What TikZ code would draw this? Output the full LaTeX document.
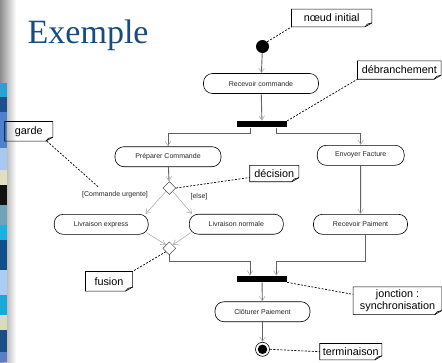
\documentclass[tikz,border=0pt]{standalone}
\usepackage{fontspec}
\setmainfont{Liberation Sans}
\newfontfamily\titlefont{Liberation Serif}
\usetikzlibrary{arrows.meta,shapes.geometric,calc}
\definecolor{titleblue}{RGB}{22,76,126}
\definecolor{bA}{HTML}{22A5D5}
\definecolor{bB}{HTML}{1F4E8C}
\definecolor{bC}{HTML}{4F7FCF}
\definecolor{bD}{HTML}{A8C8F0}
\definecolor{bE}{HTML}{E0E0C0}
\definecolor{bF}{HTML}{111111}
\definecolor{bG}{HTML}{6FA3B8}
\definecolor{bH}{HTML}{1CB0E0}
\definecolor{bI}{HTML}{0E4F8C}
\definecolor{bJ}{HTML}{A9CDF3}
\definecolor{bK}{HTML}{1AA8D8}
\definecolor{bL}{HTML}{DADBBB}
\definecolor{bM}{HTML}{1B4E86}
\definecolor{bN}{HTML}{5A7FC6}
\begin{document}
\begin{tikzpicture}[x=1pt,y=-1pt,
  act/.style={draw=black, line width=0.6pt, rounded corners=9pt, minimum height=20pt,
    inner sep=0pt, font=\fontsize{7}{8}\selectfont, text=black!85},
  syncbar/.style={fill=black, draw=none, minimum width=50pt, minimum height=6.3pt, inner sep=0pt},
  choice/.style={diamond, aspect=1, draw=black!70, line width=0.5pt, minimum width=13pt,
    minimum height=13pt, inner sep=0pt},
  notetxt/.style={inner sep=0pt, font=\fontsize{10.8}{12.5}\selectfont, align=center},
  notebox/.style={draw=black, line width=0.6pt},
  guard/.style={inner sep=0pt, font=\fontsize{7}{8}\selectfont, text=black!85},
  flow/.style={draw=black!62, line width=0.9pt,
    -{Straight Barb[length=4.5pt,width=5.5pt,color=black!30,line width=0.6pt]}},
  branch/.style={draw=black!35, line width=0.5pt,
    -{Straight Barb[length=4.5pt,width=5.5pt,color=black!30,line width=0.6pt]}},
  link/.style={draw=black, dash pattern=on 2pt off 1.5pt, line width=0.7pt}]
\useasboundingbox (0,0) rectangle (442,362);
\fill[white] (0,0) rectangle (442,362);
% left decorative strip
\shade[left color=black!45, right color=white] (0,0) rectangle (16,362);
\foreach \ya/\yb/\c in {83/97/bA, 97/112/bB, 112/148/bC, 148/170/bD, 170/185/bE,
  185/205/bF, 205/225/bG, 225/240/bH, 240/270/bI, 270/295/bJ, 295/315/bK,
  315/330/bL, 330/352/bM, 352/362/bN}
  \fill[\c] (0,\ya) rectangle (6.5,\yb);
% title
\node[anchor=base west, inner sep=0pt, text=titleblue,
  font=\titlefont\fontsize{34}{34}\selectfont] (title) at (27.5,43) {Exemple};
% activity nodes
\node[circle, fill=black, minimum size=13pt, inner sep=0pt] (init) at (262.5,46.5) {};
\node[act, minimum width=115pt] (rc) at (261,83.5) {Recevoir commande};
\node[syncbar] (bar1) at (262,124.2) {};
\node[act, minimum width=106pt] (prep) at (168,156.7) {Préparer Commande};
\node[act, minimum width=87pt] (env) at (360.7,155.3) {Envoyer Facture};
\node[choice] (dec) at (169.3,188) {};
\node[act, minimum width=94pt] (expr) at (101.2,224.3) {Livraison express};
\node[act, minimum width=94pt] (norm) at (236.3,224.2) {Livraison normale};
\node[act, minimum width=94pt] (recp) at (360.5,224.3) {Recevoir Paiment};
\node[choice] (merge) at (169.3,248.3) {};
\node[syncbar] (bar2) at (262,279) {};
\node[act, minimum width=95pt] (clot) at (262.5,311.7) {Clôturer Paiement};
\node[circle, draw=black, line width=0.6pt, minimum size=14pt, inner sep=0pt] (final) at (262.5,349.3) {};
\node[circle, fill=black, minimum size=9.5pt, inner sep=0pt] (finalin) at (final.center) {};
% guard labels
\node[guard] (lab1) at (115,195) {[Commande urgente]};
\node[guard] (lab2) at (199,196.5) {[else]};
% notes
\node[notetxt, minimum width=80pt, minimum height=17.4pt] (n1) at (331.7,18) {nœud initial};
\node[notetxt, minimum width=83.3pt, minimum height=18pt] (n2) at (399.3,70) {débranchement};
\node[notetxt, minimum width=47.7pt, minimum height=19.3pt] (n3) at (28.8,131.3) {garde};
\node[notetxt, minimum width=48.7pt, minimum height=16pt] (n4) at (274.3,173.5) {décision};
\node[notetxt, minimum width=46.7pt, minimum height=19.3pt] (n5) at (109,281.3) {fusion};
\node[notetxt, minimum width=88.3pt, minimum height=27.3pt] (n6) at (397.5,300.7) {jonction :\\synchronisation};
\node[notetxt, minimum width=61.7pt, minimum height=16pt] (n7) at (350.8,351.7) {terminaison};
\foreach \n in {n1,n2,n3,n4,n5,n6,n7}{
  \draw[notebox] (\n.north west) -- (\n.north east) -- ([yshift=4pt]\n.south east)
    -- ([xshift=-7pt]\n.south east) -- (\n.south west) -- cycle;
  \draw[notebox] ([xshift=-7pt]\n.south east) -- ([xshift=-4.5pt,yshift=2.8pt]\n.south east)
    -- ([yshift=4pt]\n.south east);
}
% flows
\coordinate (jy) at (0,261.7);
\draw[flow] (init) -- (rc);
\draw[flow] (rc) -- (bar1);
\draw[flow] ([xshift=-12pt]bar1.south) -- ++(0,6) -| (prep.north);
\draw[flow] ([xshift=14.3pt]bar1.south) -- ++(0,6) -| (env.north);
\draw[flow] (prep) -- (dec);
\draw[flow] (env) -- (recp);
\draw[branch] (dec.south west) -- ([xshift=-3pt]expr.north east);
\draw[branch] (dec.south east) -- ([xshift=3pt]norm.north west);
\draw[branch] ([xshift=-2pt,yshift=2pt]expr.south east) -- (merge.north west);
\draw[branch] ([xshift=2pt,yshift=2pt]norm.south west) -- (merge.north east);
\draw[flow] (merge.south) -- (merge.south |- jy) -| ([xshift=-12pt]bar2.north);
\draw[flow] ([xshift=4.5pt]recp.south) -- ([xshift=4.5pt]recp.south |- jy) -| ([xshift=14.3pt]bar2.north);
\draw[flow] (bar2) -- (clot);
\draw[flow] (clot) -- (final);
% note links
\draw[link] (init.north east) -- (n1.south west);
\draw[link] (bar1.north east) -- (n2.south west);
\draw[link] ([xshift=-6pt]n3.south east) -- ([xshift=-16pt,yshift=4pt]lab1.north);
\draw[link] (dec.east) -- ([yshift=-4pt]n4.west);
\draw[link] (merge.south west) -- (n5.north east);
\draw[link] (bar2.south east) -- ([yshift=6.3pt]n6.west);
\draw[link] (final.east) -- (n7.west);
\end{tikzpicture}
\end{document}
